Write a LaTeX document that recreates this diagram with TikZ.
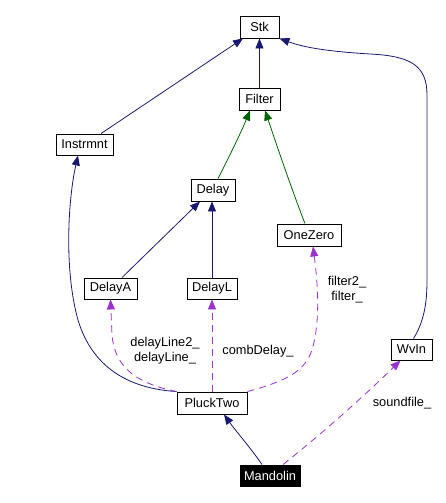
\documentclass[tikz,border=0pt]{standalone}
\usepackage{fontspec}
\setmainfont{Liberation Sans}
\usetikzlibrary{arrows.meta}
\definecolor{navy}{HTML}{191970}
\definecolor{dgreen}{HTML}{006400}
\definecolor{orchid}{HTML}{9A32CD}
\begin{document}
\begin{tikzpicture}[x=1pt,y=-1pt,
  box/.style={draw=black,line width=0.9pt,inner sep=0pt,font=\fontsize{12.8}{14}\selectfont},
  lbl/.style={font=\fontsize{12.8}{15}\selectfont,align=center,inner sep=0pt},
  inh/.style={draw=navy,line width=0.8pt,-{Triangle[length=10pt,width=8pt]}},
  ginh/.style={draw=dgreen,line width=0.8pt,-{Triangle[length=10pt,width=8pt]}},
  use/.style={draw=orchid,line width=0.8pt,dash pattern=on 7pt off 5pt,-{Triangle[length=10pt,width=8pt]}}]
\useasboundingbox (0,0) rectangle (445,503);
\node[box,minimum width=39pt,minimum height=22pt] (stk) at (259.5,27) {Stk};
\node[box,minimum width=41pt,minimum height=22pt] (filter) at (259.5,99) {Filter};
\node[box,minimum width=57pt,minimum height=21pt] (instr) at (84.5,144.5) {Instrmnt};
\node[box,minimum width=44pt,minimum height=22pt] (delay) at (213,190) {Delay};
\node[box,minimum width=64pt,minimum height=22pt] (onezero) at (309,235) {OneZero};
\node[box,minimum width=53pt,minimum height=21pt] (delaya) at (110.5,288.5) {DelayA};
\node[box,minimum width=50pt,minimum height=21pt] (delayl) at (212,288.5) {DelayL};
\node[box,minimum width=41pt,minimum height=21pt] (wvin) at (411.5,349.5) {WvIn};
\node[box,minimum width=70pt,minimum height=22pt] (pluck) at (212,403) {PluckTwo};
\node[box,fill=black,text=white,minimum width=60pt,minimum height=21pt] (mand) at (270,475.5) {Mandolin};
% inheritance
\draw[inh] ([xshift=16.5pt]instr.north) -- ([xshift=-16.5pt]stk.south);
\draw[inh] (filter.north) -- (stk.south);
\draw[inh] ([xshift=2pt]wvin.north) .. controls (425,320) and (427,300) .. (427,280) -- (427,95)
  .. controls (427,65) and (410,56) .. (370,54) .. controls (320,51) and (300,46) .. (stk.south east);
\draw[inh] (pluck.north west) .. controls (120,388) and (90,360) .. (78,320)
  .. controls (64,270) and (68,200) .. ([xshift=-6.5pt]instr.south);
\draw[ginh] ([xshift=5pt]delay.north) .. controls (225,165) and (240,135) .. ([xshift=-9.5pt]filter.south);
\draw[ginh] ([xshift=-4pt]onezero.north) .. controls (290,185) and (275,140) .. ([xshift=5.5pt]filter.south);
\draw[inh] ([xshift=11.5pt]delaya.north) -- ([xshift=-13pt]delay.south);
\draw[inh] (delayl.north) -- (delayl.north |- delay.south);
\draw[inh] ([xshift=-8pt]mand.north) .. controls (250,447) and (235,430) .. ([xshift=12pt]pluck.south);
% usage
\draw[use] (pluck.north west) .. controls (140,384) and (115,370) .. (112,335) -- (delaya.south);
\draw[use] (pluck.north) -- (delayl.south);
\draw[use] (pluck.north east) .. controls (290,380) and (305,370) .. (312,350)
  .. controls (318,330) and (320,300) .. ([xshift=4pt]onezero.south);
\draw[use] ([xshift=13pt]mand.north) .. controls (320,435) and (360,400) .. ([xshift=-11pt]wvin.south);
% labels
\node[lbl] (l1) at (165,351) {delayLine2\_\\delayLine\_};
\node[lbl] (l2) at (258,351) {combDelay\_};
\node[lbl] (l3) at (347,290) {filter2\_\\filter\_};
\node[lbl] (l4) at (402,403) {soundfile\_};
\end{tikzpicture}
\end{document}
